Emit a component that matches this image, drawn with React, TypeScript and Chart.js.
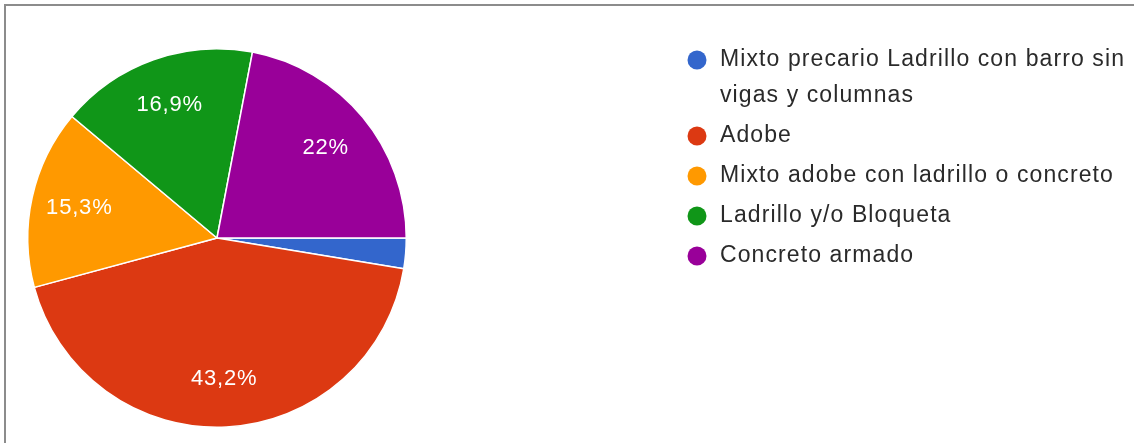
import React, { useEffect, useRef } from "react";
import { Chart, registerables } from "chart.js";

Chart.register(...registerables);

const categories = [
  "Mixto precario Ladrillo con barro sin vigas y columnas",
  "Adobe",
  "Mixto adobe con ladrillo o concreto",
  "Ladrillo y/o Bloqueta",
  "Concreto armado",
];
const percentages = [2.6, 43.2, 15.3, 16.9, 22];
const sliceColors = ["#3366cc", "#dc3912", "#ff9900", "#109618", "#990099"];

const W = 1134;
const H = 443;
const FONT = "'Liberation Sans', Arial, sans-serif";

const fmt = (v: number) => String(v).replace(".", ",") + "%";

const framePlugin = {
  id: "frame",
  beforeDraw(chart: any) {
    const ctx = chart.ctx;
    ctx.save();
    ctx.fillStyle = "#ffffff";
    ctx.fillRect(0, 0, W, H);
    ctx.strokeStyle = "#8c8c8c";
    ctx.lineWidth = 2;
    ctx.beginPath();
    ctx.moveTo(5, H + 5);
    ctx.lineTo(5, 5);
    ctx.lineTo(W + 5, 5);
    ctx.stroke();
    ctx.restore();
  },
};

const sliceLabelPlugin = {
  id: "sliceLabels",
  afterDatasetsDraw(chart: any) {
    const ctx = chart.ctx;
    const meta = chart.getDatasetMeta(0);
    const data = chart.data.datasets[0].data as number[];
    ctx.save();
    ctx.fillStyle = "#ffffff";
    ctx.font = `22px ${FONT}`;
    (ctx as any).letterSpacing = "0.8px";
    ctx.textAlign = "center";
    ctx.textBaseline = "middle";
    meta.data.forEach((arc: any, i: number) => {
      const v = data[i];
      if (v < 5) return;
      const { x, y, startAngle, endAngle, outerRadius } = arc.getProps(
        ["x", "y", "startAngle", "endAngle", "outerRadius"],
        true
      );
      const mid = (startAngle + endAngle) / 2;
      const r = outerRadius * 0.745;
      ctx.fillText(fmt(v), x + Math.cos(mid) * r, y + Math.sin(mid) * r);
    });
    ctx.restore();
  },
};

const legendPlugin = {
  id: "customLegend",
  afterDraw(chart: any) {
    const ctx = chart.ctx;
    const labels = chart.data.labels as string[];
    const colors = chart.data.datasets[0].backgroundColor as string[];
    const textX = 720;
    const dotX = 697;
    const maxW = W - textX - 4;
    const lineH = 36;
    const gap = 4;
    let y = 60;
    ctx.save();
    ctx.font = `23px ${FONT}`;
    (ctx as any).letterSpacing = "1.1px";
    ctx.textBaseline = "middle";
    ctx.textAlign = "left";
    labels.forEach((label, i) => {
      const words = label.split(" ");
      const lines: string[] = [];
      let cur = "";
      words.forEach((w) => {
        const test = cur ? cur + " " + w : w;
        if (ctx.measureText(test).width > maxW && cur) {
          lines.push(cur);
          cur = w;
        } else cur = test;
      });
      if (cur) lines.push(cur);
      ctx.fillStyle = colors[i];
      ctx.beginPath();
      ctx.arc(dotX, y, 9.5, 0, Math.PI * 2);
      ctx.fill();
      ctx.fillStyle = "#2a2a2a";
      lines.forEach((ln, j) => {
        ctx.fillText(ln, textX, y + j * lineH);
      });
      y += lines.length * lineH + gap;
    });
    ctx.restore();
  },
};

export default function App() {
  const ref = useRef<HTMLCanvasElement | null>(null);
  useEffect(() => {
    document.body.style.margin = "0";
    if (!ref.current) return;
    const chart = new Chart(ref.current, {
      type: "pie",
      data: {
        labels: categories,
        datasets: [
          {
            data: percentages,
            backgroundColor: sliceColors,
            borderColor: "#ffffff",
            borderWidth: 1.5,
          },
        ],
      },
      options: {
        responsive: false,
        animation: false,
        rotation: 90,
        layout: { padding: { left: 27, top: 48, right: W - 27 - 380, bottom: H - 48 - 380 } },
        plugins: {
          legend: { display: false },
          tooltip: { enabled: false },
        },
      },
      plugins: [framePlugin, sliceLabelPlugin, legendPlugin],
    });
    return () => chart.destroy();
  }, []);
  return (
    <div style={{ width: W, height: H }}>
      <canvas ref={ref} width={W} height={H} style={{ display: "block", width: W, height: H }} />
    </div>
  );
}
